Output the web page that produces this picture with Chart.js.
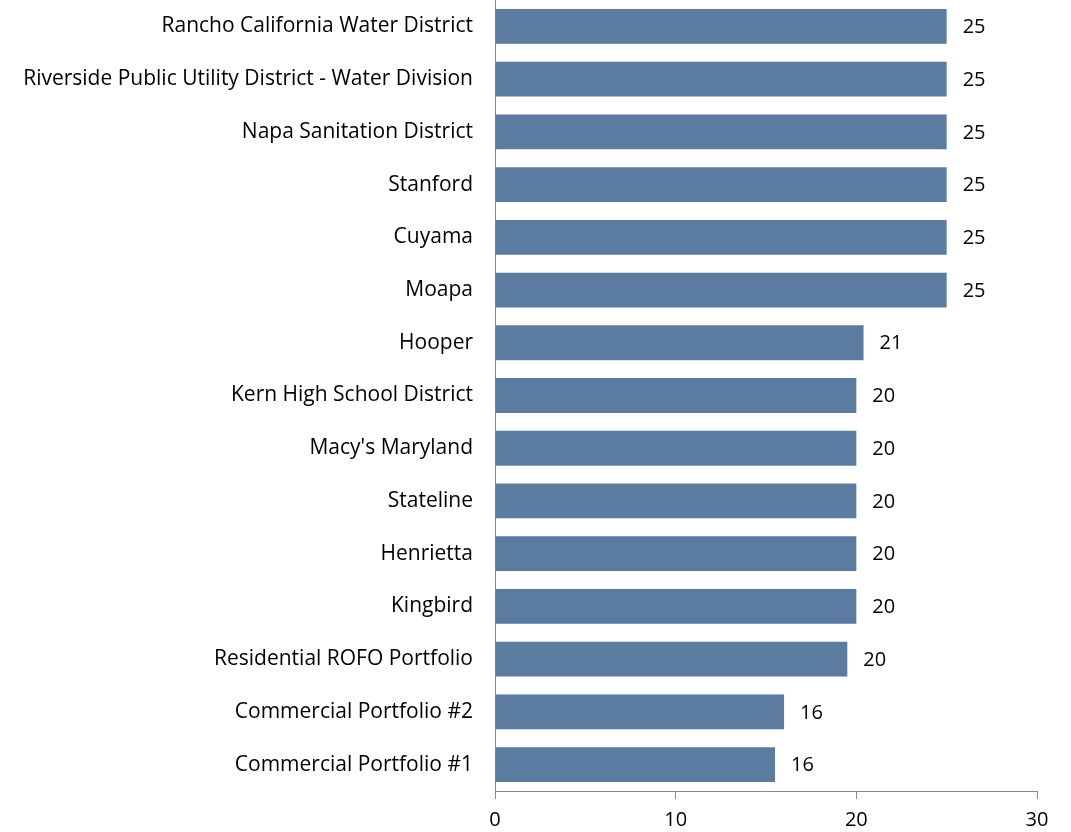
<!DOCTYPE html>
<html><head><meta charset="utf-8">
<script src="https://cdn.jsdelivr.net/npm/chart.js@4"></script>
<style>html,body{margin:0;padding:0;background:#fff}#wrap{width:1071px;height:832px}</style>
</head><body><div id="wrap"><canvas id="c"></canvas></div>
<script>
const categories = ["Rancho California Water District","Riverside Public Utility District - Water Division","Napa Sanitation District","Stanford","Cuyama","Moapa","Hooper","Kern High School District","Macy's Maryland","Stateline","Henrietta","Kingbird","Residential ROFO Portfolio","Commercial Portfolio #2","Commercial Portfolio #1"];
const values = [25,25,25,25,25,25,20.4,20,20,20,20,20,19.5,16,15.5];
const valueLabels = ["25","25","25","25","25","25","21","20","20","20","20","20","20","16","16"];
const xTicks = [0,10,20,30];
const FONT = "'Open Sans', 'Noto Sans', sans-serif";

const dataLabels = {
  id:'dataLabels',
  afterDatasetsDraw(chart){
    const ctx = chart.ctx;
    const meta = chart.getDatasetMeta(0);
    ctx.save();
    ctx.font = "20px " + FONT;
    ctx.fillStyle = "#000";
    ctx.textAlign = "left";
    ctx.textBaseline = "middle";
    meta.data.forEach((bar,i)=>{
      ctx.fillText(valueLabels[i], bar.x + 16, bar.y + 1);
    });
    ctx.restore();
  }
};

new Chart(document.getElementById('c'), {
  type:'bar',
  data:{labels:categories, datasets:[{data:values, backgroundColor:'#5B7BA0', borderWidth:0, barPercentage:0.66, categoryPercentage:1}]},
  options:{
    indexAxis:'y', responsive:true, maintainAspectRatio:false, animation:false,
    layout:{padding:{top:0,right:34,left:0,bottom:0}},
    plugins:{legend:{display:false}, tooltip:{enabled:false}},
    scales:{
      x:{min:0,max:30,
        afterBuildTicks(s){ s.ticks = xTicks.map(v=>({value:v})); },
        afterFit(s){ s.height = 41; },
        grid:{drawOnChartArea:false, drawTicks:true, tickLength:8, color:'#888'},
        border:{color:'#888', width:1},
        ticks:{color:'#000', padding:9, font:{family:FONT, size:20}, maxRotation:0}
      },
      y:{
        afterFit(s){ s.width = 495; s.paddingTop = 0; s.paddingBottom = 0; },
        grid:{display:false, drawTicks:false},
        border:{color:'#888', width:1},
        ticks:{color:'#000', padding:22, font:{family:FONT, size:21}, autoSkip:false}
      }
    }
  },
  plugins:[dataLabels]
});
</script></body></html>
